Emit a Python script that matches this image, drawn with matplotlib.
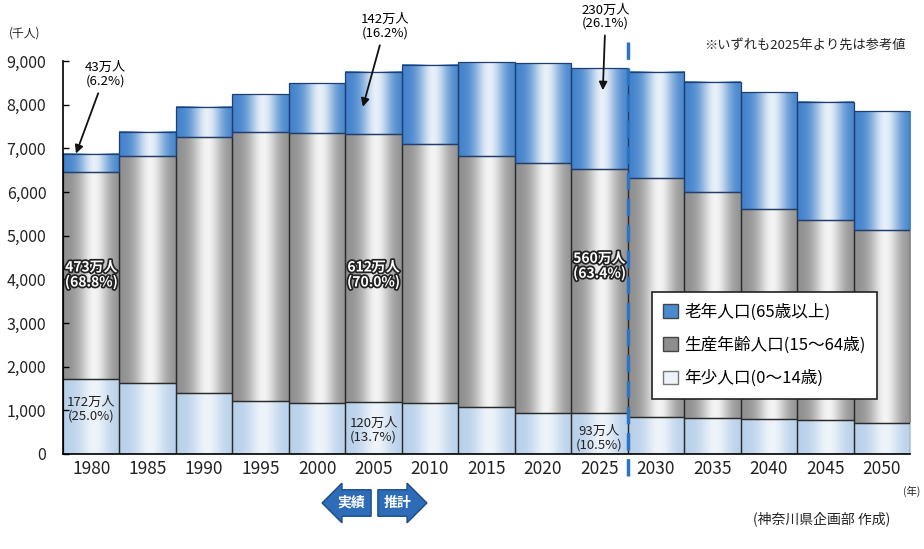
import matplotlib
matplotlib.use('Agg')
import matplotlib.pyplot as plt
import matplotlib.patheffects as pe
from matplotlib.patches import Patch
from matplotlib.colors import to_rgb
from matplotlib import font_manager
import numpy as np

# 神奈川県の年齢3区分別人口（千人）
years = [1980, 1985, 1990, 1995, 2000, 2005, 2010, 2015, 2020, 2025,
         2030, 2035, 2040, 2045, 2050]
young = [1720, 1630, 1400, 1210, 1170, 1200, 1160, 1080, 940, 930,
         850, 830, 800, 790, 720]
working = [4730, 5190, 5850, 6160, 6180, 6120, 5930, 5740, 5720, 5600,
           5460, 5170, 4820, 4560, 4420]
elderly = [430, 550, 700, 870, 1140, 1420, 1820, 2150, 2290, 2300,
           2440, 2520, 2670, 2710, 2710]

legend_labels = ['老年人口(65歳以上)', '生産年齢人口(15～64歳)', '年少人口(0～14歳)']

names = {f.name for f in font_manager.fontManager.ttflist}
num_font = 'Liberation Sans Narrow' if 'Liberation Sans Narrow' in names else 'Noto Sans CJK JP'
plt.rcParams['font.family'] = ['Noto Sans CJK JP', 'DejaVu Sans']

fig = plt.figure(figsize=(9.24, 5.49), dpi=100)
ax = fig.add_axes([63 / 924, 95 / 549, 847 / 924, 393 / 549])

x = np.arange(len(years))
young = np.array(young)
working = np.array(working)
elderly = np.array(elderly)
total = young + working + elderly


def shade(rects, dark, light):
    # cylinder-like shading across each bar
    t = np.linspace(0, 1, 80)
    b = np.exp(-((t - 0.55) / 0.26) ** 2)
    d = np.array(to_rgb(dark))
    l = np.array(to_rgb(light))
    img = (d[None, :] + (l - d)[None, :] * b[:, None])[None, :, :]
    for r in rects:
        x0, y0, w, h = r.get_x(), r.get_y(), r.get_width(), r.get_height()
        ax.imshow(img, extent=[x0, x0 + w, y0, y0 + h], aspect='auto',
                  interpolation='bilinear', zorder=1)


b1 = ax.bar(x, young, width=1, color='none', edgecolor='#2a2a2a', lw=0.9, zorder=2)
b2 = ax.bar(x, working, width=1, bottom=young, color='none', edgecolor='#2a2a2a', lw=0.9, zorder=2)
b3 = ax.bar(x, elderly, width=1, bottom=young + working, color='none', edgecolor='#1f3f70', lw=0.9, zorder=2)
shade(b1, '#b8d0ea', '#eef4fa')
shade(b2, '#8f8f8f', '#f4f4f4')
shade(b3, '#4282cb', '#e8f0f9')

ax.set_xlim(-0.5, len(years) - 0.5)
ax.set_ylim(0, 9000)
ax.set_yticks(np.arange(0, 9001, 1000))
ax.set_yticklabels([f'{v:,}' for v in range(0, 9001, 1000)],
                   fontfamily=num_font, fontsize=11.5, color='#222')
ax.set_xticks(x)
ax.set_xticklabels([str(y) for y in years], fontfamily=num_font,
                   fontsize=12.5, color='#222')
ax.tick_params(axis='y', direction='in', length=4, width=1, pad=12)
ax.tick_params(axis='x', length=0, pad=4)
for s in ['top', 'right']:
    ax.spines[s].set_visible(False)
ax.spines['left'].set_linewidth(1.2)
ax.spines['bottom'].set_linewidth(1.2)

# boundary between actual and projected
ax.plot([9.5, 9.5], [-0.055, 1.06], transform=ax.get_xaxis_transform(),
        clip_on=False, color='#2f72c0', lw=2.5, dashes=(5, 2.5), zorder=5)

# callouts above the bars
arr = dict(arrowstyle='-|>', color='#111', lw=1.3, mutation_scale=12,
           shrinkA=2, shrinkB=0)
ax.annotate('43万人\n(6.2%)', xy=(-0.27, total[0]), xytext=(21, 57),
            textcoords='offset points', ha='center', va='center',
            fontsize=9.5, linespacing=1.1, arrowprops=arr, annotation_clip=False)
ax.annotate('142万人\n(16.2%)', xy=(4.81, 7950), xytext=(16, 58),
            textcoords='offset points', ha='center', va='center',
            fontsize=9.5, linespacing=1.1, arrowprops=arr, annotation_clip=False)
ax.annotate('230万人\n(26.1%)', xy=(9.06, 8330), xytext=(2, 53),
            textcoords='offset points', ha='center', va='center',
            fontsize=9.5, linespacing=1.05, arrowprops=arr, annotation_clip=False)

# labels inside the bars
stroke = [pe.withStroke(linewidth=2.5, foreground='#222')]
for i, txt, yv in [(0, '473万人\n(68.8%)', 4100), (5, '612万人\n(70.0%)', 4100),
                   (9, '560万人\n(63.4%)', 4300)]:
    ax.text(i, yv, txt, ha='center', va='center', fontsize=10, color='white',
            fontweight='bold', linespacing=1.05, path_effects=stroke, zorder=6)
for i, txt, yv in [(0, '172万人\n(25.0%)', 1030), (5, '120万人\n(13.7%)', 550),
                   (9, '93万人\n(10.5%)', 370)]:
    ax.text(i, yv, txt, ha='center', va='center', fontsize=9.5, color='#222',
            linespacing=1.05, zorder=6)

handles = [Patch(facecolor='#4a8ad0', edgecolor='#444'),
           Patch(facecolor='#8e8e8e', edgecolor='#444'),
           Patch(facecolor='#eef3fa', edgecolor='#777')]
leg = ax.legend(handles, legend_labels, loc='upper left',
                bbox_to_anchor=(0.695, 0.412), borderaxespad=0, fontsize=12,
                handlelength=0.9, handleheight=0.9, handletextpad=0.35,
                labelspacing=0.95, borderpad=0.7, fancybox=False,
                framealpha=1, edgecolor='#222')
leg.get_frame().set_linewidth(1.2)
leg.set_zorder(7)

fig.text(25 / 924, 1 - 33 / 549, '(千人)', ha='center', va='center', fontsize=8.5, color='#222')
fig.text(805 / 924, 1 - 45 / 549, '※いずれも2025年より先は参考値', ha='center',
         va='center', fontsize=9.5, color='#222')
fig.text(912 / 924, 1 - 491 / 549, '(年)', ha='center', va='center', fontsize=7.5, color='#222')
fig.text(822 / 924, 1 - 519 / 549, '(神奈川県企画部 作成)', ha='center',
         va='center', fontsize=10, color='#222')
fig.text(351 / 924, 1 - 503 / 549, '実績', ha='center', va='center', fontsize=10,
         color='white', fontweight='bold',
         bbox=dict(boxstyle='larrow,pad=0.45', fc='#2e6cb8', ec='#1c4d8a', lw=1))
fig.text(398 / 924, 1 - 503 / 549, '推計', ha='center', va='center', fontsize=10,
         color='white', fontweight='bold',
         bbox=dict(boxstyle='rarrow,pad=0.45', fc='#2e6cb8', ec='#1c4d8a', lw=1))

fig.savefig('out.png', dpi=100, facecolor='white')
